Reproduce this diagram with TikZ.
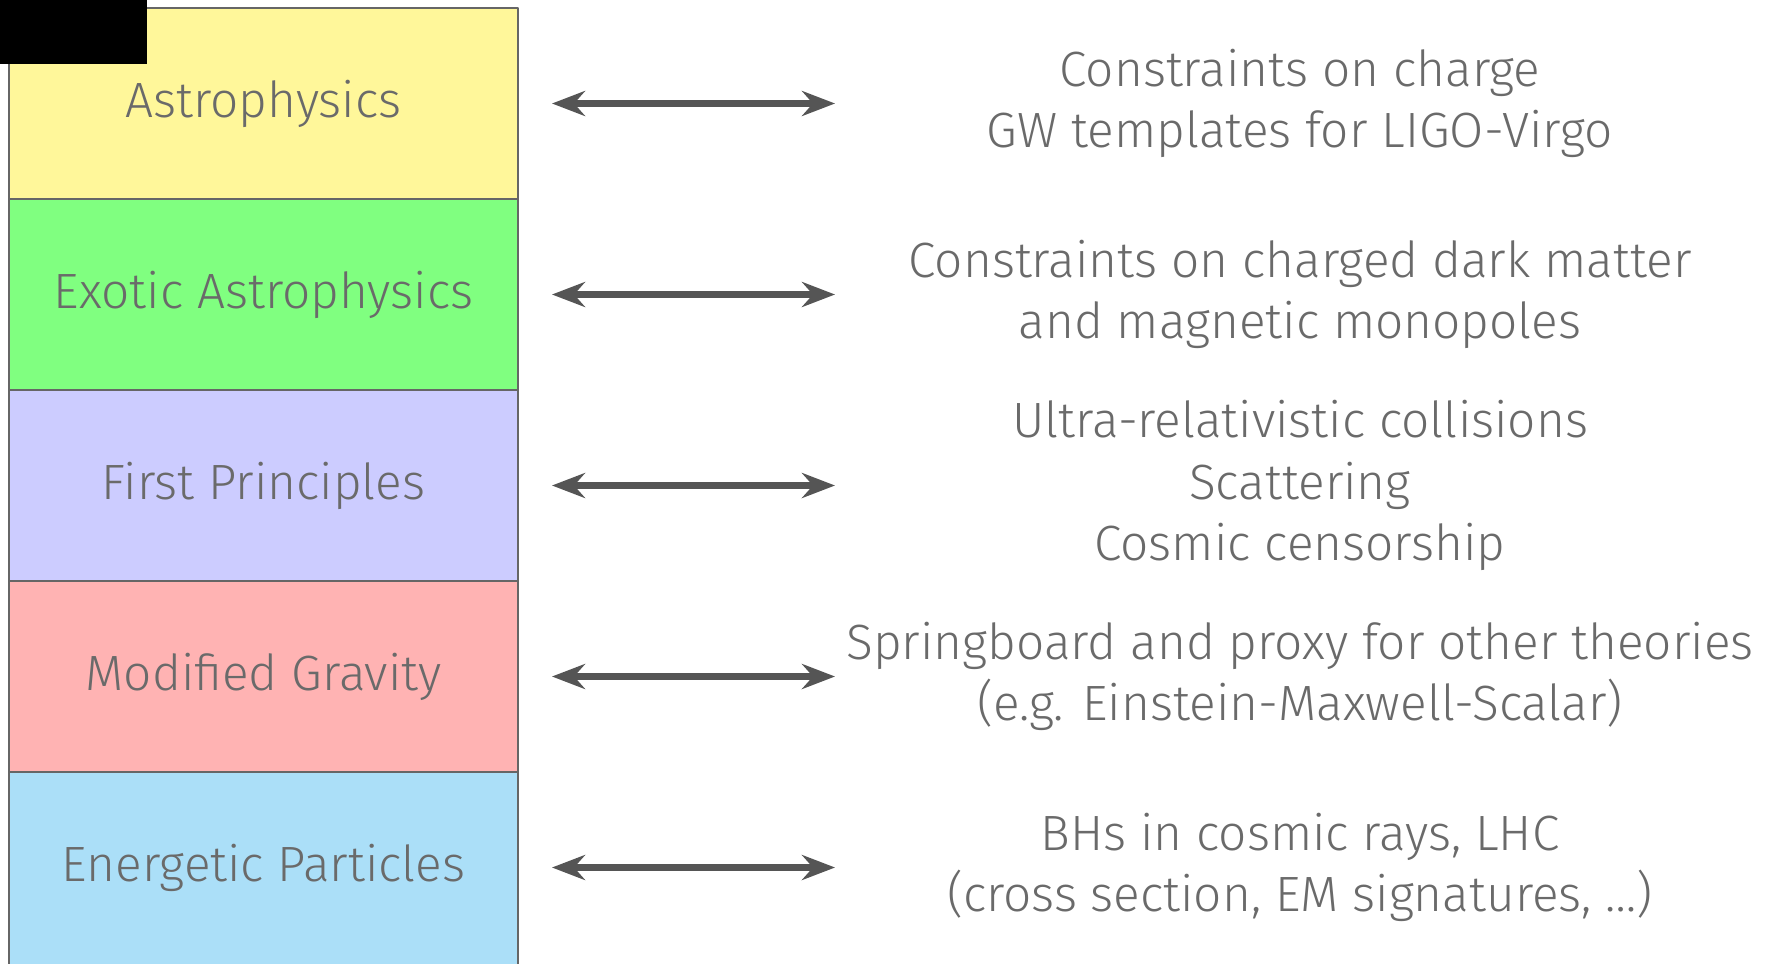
\documentclass[tikz,border=0pt]{standalone}
\usepackage{fontspec}
\setmainfont{Fira Sans}[UprightFont=* Light]
\usetikzlibrary{arrows.meta,positioning}

\definecolor{astroyellow}{HTML}{FFF79A}
\definecolor{exoticgreen}{HTML}{80FF80}
\definecolor{firstlilac}{HTML}{CCCCFF}
\definecolor{modpink}{HTML}{FFB3B3}
\definecolor{energyblue}{HTML}{ABDFF8}
\definecolor{txtgray}{HTML}{6A6A6A}
\definecolor{arrowgray}{HTML}{555555}

\begin{document}
\begin{tikzpicture}[line cap=round,line join=round,
    band/.style={draw=gray!80!black,line width=0.6pt,minimum width=5.09cm,minimum height=1.91cm,
      inner sep=0pt,outer sep=0pt,text=txtgray,font=\fontsize{14.1}{17.4}\selectfont},
    note/.style={align=center,text=txtgray,inner sep=0pt,font=\fontsize{14.1}{17.4}\selectfont},
    twoway/.style={arrowgray,line width=1.9pt,line cap=butt,
      {Stealth[length=3.3mm,width=2.5mm,inset=1.1mm]}-{Stealth[length=3.3mm,width=2.5mm,inset=1.1mm]}}]
  \useasboundingbox (0,0) rectangle (17.73,9.63);
  % column of boxes
  \node[band,fill=astroyellow] (astro) at (2.635,8.595) {Astrophysics};
  \node[band,fill=exoticgreen,below=0pt of astro] (exotic) {Exotic Astrophysics};
  \node[band,fill=firstlilac,below=0pt of exotic] (first) {First Principles};
  \node[band,fill=modpink,below=0pt of first] (modgrav) {Modified Gravity};
  % last one runs off the bottom edge
  \node[band,fill=energyblue,below=0pt of modgrav,minimum height=2.3cm,
    text height=0.37cm,text depth=0.49cm] (energetic) {Energetic Particles};
  % right column
  \node[note] (astronote) at (13.0,8.595) {Constraints on charge\\GW templates for LIGO-Virgo};
  \node[note] (exoticnote) at (13.0,6.685) {Constraints on charged dark matter\\and magnetic monopoles};
  \node[note] (firstnote) at (13.0,4.775) {Ultra-relativistic collisions\\Scattering\\Cosmic censorship};
  \node[note] (modgravnote) at (13.0,2.865) {Springboard and proxy for other theories\\(e.g. Einstein-Maxwell-Scalar)};
  \node[note] (energeticnote) at (13.0,0.955) {BHs in cosmic rays, LHC\\(cross section, EM signatures, \dots)};
  % arrows
  \foreach \n in {astro,exotic,first,modgrav,energetic}
    \draw[twoway] ([xshift=3.4mm]astro.east |- \n note.west) -- ([xshift=31.7mm]astro.east |- \n note.west);
  % black patch at the corner
  \fill[black] (0,8.99) rectangle (1.47,9.63);
\end{tikzpicture}
\end{document}
